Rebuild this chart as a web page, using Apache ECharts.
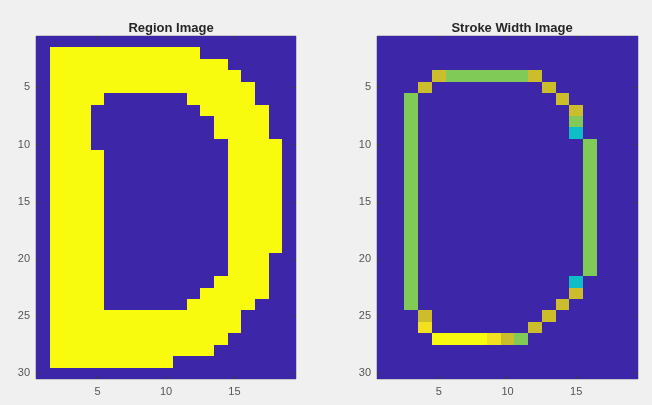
<!DOCTYPE html>
<html>
<head>
<meta charset="utf-8">
<script src="https://cdn.jsdelivr.net/npm/echarts@6/dist/echarts.min.js"></script>
<style>
html,body{margin:0;padding:0;background:#f0f0f0;}
#c{width:652px;height:405px;}
</style>
</head>
<body>
<div id="c"></div>
<script>
// Column (x) and row (y) categories
var xCats = ['1','2','3','4','5','6','7','8','9','10','11','12','13','14','15','16','17','18','19'];
var yCats = ['1','2','3','4','5','6','7','8','9','10','11','12','13','14','15','16','17','18','19','20','21','22','23','24','25','26','27','28','29','30'];
var xTickLabels = ['5','10','15'];
var yTickLabels = ['5','10','15','20','25','30'];
var titles = ['Region Image', 'Stroke Width Image'];

// Region image (binary): one string per row, one char per column
var regionRows = [
  '0000000000000000000',
  '0111111111110000000',
  '0111111111111100000',
  '0111111111111110000',
  '0111111111111111000',
  '0111100000011111000',
  '0111000000001111100',
  '0111000000000111100',
  '0111000000000111100',
  '0111000000000011110',
  '0111100000000011110',
  '0111100000000011110',
  '0111100000000011110',
  '0111100000000011110',
  '0111100000000011110',
  '0111100000000011110',
  '0111100000000011110',
  '0111100000000011110',
  '0111100000000011110',
  '0111100000000011100',
  '0111100000000011100',
  '0111100000000111100',
  '0111100000001111100',
  '0111100000011111000',
  '0111111111111110000',
  '0111111111111110000',
  '0111111111111100000',
  '0111111111111000000',
  '0111111111000000000',
  '0000000000000000000'
];

// Stroke width image: stroke width level per pixel (0 = background)
var strokeRows = [
  '0000000000000000000',
  '0000000000000000000',
  '0000000000000000000',
  '0000544444450000000',
  '0005000000005000000',
  '0040000000000500000',
  '0040000000000050000',
  '0040000000000040000',
  '0040000000000030000',
  '0040000000000004000',
  '0040000000000004000',
  '0040000000000004000',
  '0040000000000004000',
  '0040000000000004000',
  '0040000000000004000',
  '0040000000000004000',
  '0040000000000004000',
  '0040000000000004000',
  '0040000000000004000',
  '0040000000000004000',
  '0040000000000004000',
  '0040000000000030000',
  '0040000000000050000',
  '0040000000000500000',
  '0005000000005000000',
  '0006000000050000000',
  '0000777765400000000',
  '0000000000000000000',
  '0000000000000000000',
  '0000000000000000000'
];

var regionLevels = [0, 1];
var regionColors = ['#3e26a8', '#f9fb0e'];
var strokeLevels = [0, 3, 4, 5, 6, 7];
var strokeColors = ['#3e26a8', '#0fbdc7', '#80cb58', '#cbbd2b', '#f3e01f', '#f9fb0e'];

function toData(rows) {
  var out = [];
  for (var r = 0; r < rows.length; r++) {
    for (var c = 0; c < rows[r].length; c++) {
      out.push([c, r, Number(rows[r][c])]);
    }
  }
  return out;
}

// Image cells drawn via the axes' scales, snapped to whole pixels so no seams appear
function renderCell(params, api) {
  var center = api.coord([api.value(0), api.value(1)]);
  var size = api.size([1, 1]);
  var x0 = Math.round(center[0] - size[0] / 2);
  var x1 = Math.round(center[0] + size[0] / 2);
  var y0 = Math.round(center[1] - size[1] / 2);
  var y1 = Math.round(center[1] + size[1] / 2);
  return {
    type: 'rect',
    shape: {x: x0, y: y0, width: x1 - x0, height: y1 - y0},
    style: {fill: api.visual('color')}
  };
}

var FONT = 'Liberation Sans, Arial, Helvetica, sans-serif';
var labelColor = '#555555';
var tickColor = '#3a3a3a';

function showX(i, v) { return xTickLabels.indexOf(v) >= 0; }
function showY(i, v) { return yTickLabels.indexOf(v) >= 0; }

var grids = [
  {left: 36, top: 36, width: 260, height: 343},
  {left: 377, top: 36, width: 261, height: 343}
];

var xAxes = [], yAxes = [];
for (var g = 0; g < 2; g++) {
  xAxes.push({
    type: 'category', gridIndex: g, data: xCats, position: 'bottom', z: 5,
    axisLine: {show: false},
    axisTick: {show: true, inside: true, length: 3, alignWithLabel: true, interval: showX, lineStyle: {color: tickColor}},
    axisLabel: {interval: showX, color: labelColor, fontFamily: FONT, fontSize: 11, margin: 7},
    splitLine: {show: false}, splitArea: {show: false}
  });
  xAxes.push({
    type: 'category', gridIndex: g, data: xCats, position: 'top', z: 5,
    axisLine: {show: false},
    axisTick: {show: true, inside: true, length: 3, alignWithLabel: true, interval: showX, lineStyle: {color: tickColor}},
    axisLabel: {show: false},
    splitLine: {show: false}, splitArea: {show: false}
  });
  yAxes.push({
    type: 'category', gridIndex: g, data: yCats, inverse: true, position: 'left', z: 5,
    axisLine: {show: false},
    axisTick: {show: true, inside: true, length: 3, alignWithLabel: true, interval: showY, lineStyle: {color: tickColor}},
    axisLabel: {interval: showY, color: labelColor, fontFamily: FONT, fontSize: 11, margin: 6},
    splitLine: {show: false}, splitArea: {show: false}
  });
  yAxes.push({
    type: 'category', gridIndex: g, data: yCats, inverse: true, position: 'right', z: 5,
    axisLine: {show: false},
    axisTick: {show: true, inside: true, length: 3, alignWithLabel: true, interval: showY, lineStyle: {color: tickColor}},
    axisLabel: {show: false},
    splitLine: {show: false}, splitArea: {show: false}
  });
}

function pieces(levels, colors) {
  return levels.map(function (v, i) { return {value: v, color: colors[i]}; });
}

var option = {
  backgroundColor: '#f0f0f0',
  animation: false,
  title: [
    {text: titles[0], left: 166, top: 17, textAlign: 'center',
     textStyle: {fontFamily: FONT, fontSize: 13, fontWeight: 'bold', color: '#262626'}},
    {text: titles[1], left: 507, top: 17, textAlign: 'center',
     textStyle: {fontFamily: FONT, fontSize: 13, fontWeight: 'bold', color: '#262626'}}
  ],
  grid: grids.map(function (g) {
    return Object.assign({show: true, borderColor: '#9a9a9a', borderWidth: 1, backgroundColor: '#3e26a8'}, g);
  }),
  xAxis: xAxes,
  yAxis: yAxes,
  visualMap: [
    {type: 'piecewise', show: false, seriesIndex: 0, dimension: 2, pieces: pieces(regionLevels, regionColors)},
    {type: 'piecewise', show: false, seriesIndex: 1, dimension: 2, pieces: pieces(strokeLevels, strokeColors)}
  ],
  series: [
    {type: 'custom', xAxisIndex: 0, yAxisIndex: 0, data: toData(regionRows), renderItem: renderCell,
     encode: {x: 0, y: 1}, emphasis: {disabled: true}, silent: true, z: 1},
    {type: 'custom', xAxisIndex: 2, yAxisIndex: 2, data: toData(strokeRows), renderItem: renderCell,
     encode: {x: 0, y: 1}, emphasis: {disabled: true}, silent: true, z: 1}
  ]
};

var chart = echarts.init(document.getElementById('c'), null, {renderer: 'canvas'});
chart.setOption(option);
</script>
</body>
</html>
